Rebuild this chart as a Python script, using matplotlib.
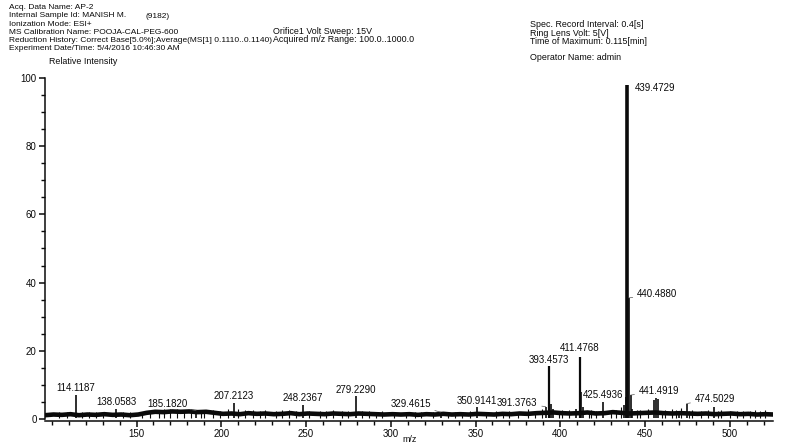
import numpy as np
import matplotlib
matplotlib.use("Agg")
import matplotlib.pyplot as plt
from matplotlib.ticker import MultipleLocator

plt.rcParams['font.family'] = ['Liberation Sans', 'DejaVu Sans']

# labelled peaks (m/z, relative intensity)
peak_mz = [114.1187, 138.0583, 185.1820, 207.2123, 248.2367, 279.2290, 329.4615,
           350.9141, 391.3763, 393.4573, 411.4768, 425.4936, 439.4729, 440.4880,
           441.4919, 474.5029]
peak_int = [7.0, 2.8, 2.4, 4.6, 4.0, 6.8, 2.0, 3.6, 3.6, 15.6, 18.2, 5.0, 98.0,
            35.5, 7.0, 4.5]
peak_lab = ['114.1187', '138.0583', '185.1820', '207.2123', '248.2367', '279.2290',
            '329.4615', '350.9141', '391.3763', '393.4573', '411.4768', '425.4936',
            '439.4729', '440.4880', '441.4919', '474.5029']

# unlabelled peaks
minor_mz = [394.5, 396.0, 409.0, 412.5, 413.5, 437.5, 438.5, 442.5, 455.5, 456.5,
            457.5, 470.0, 490.5]
minor_int = [4.5, 3.0, 2.8, 8.0, 3.5, 4.0, 6.5, 3.0, 5.5, 6.0, 5.8, 2.4, 3.6]

# small noise spikes on the baseline
noise_mz = [104, 109, 118, 122, 126, 130, 142, 146, 153, 158, 163, 166, 170, 174,
            178, 182, 188, 190, 195, 199, 204, 210, 214, 219, 223, 226, 232, 236,
            240, 244, 252, 258, 262, 266, 271, 275, 283, 287, 291, 295, 302, 309,
            314, 318, 325, 334, 338, 342, 347, 356, 362, 366, 370, 375, 381, 385,
            389, 399, 401, 405, 417, 418, 421, 430, 433, 436, 445, 447, 452, 460,
            462, 466, 468, 471, 476, 478, 483, 487, 493, 495, 500, 504, 508, 512,
            515, 518, 521]
noise_int = [1.9, 2.0, 2.1, 2.0, 1.9, 2.1, 1.9, 2.0, 1.9, 2.4, 2.7, 2.9, 2.9, 2.8,
             2.7, 2.8, 2.7, 2.6, 2.6, 2.4, 2.8, 2.9, 2.5, 2.6, 2.4, 2.5, 2.4, 2.6,
             2.5, 2.3, 2.4, 2.3, 2.4, 2.5, 2.2, 2.4, 2.2, 2.3, 2.1, 2.2, 2.0, 2.1,
             2.0, 2.1, 1.9, 2.0, 2.1, 2.0, 2.2, 2.0, 2.2, 2.1, 2.3, 2.1, 2.8, 2.4,
             3.0, 2.4, 2.6, 2.7, 2.4, 2.5, 2.3, 2.5, 2.6, 3.5, 2.6, 2.6, 2.8, 2.4,
             2.7, 3.0, 2.5, 3.1, 2.4, 2.6, 2.4, 2.6, 2.3, 2.5, 2.3, 2.2, 2.2, 2.3,
             2.5, 2.2, 2.7]

# baseline level, sampled every 5 m/z from 96 to 526
base_mz = np.arange(96, 527, 5)
base_int = [1.1, 1.3, 1.2, 1.4, 1.1, 1.3, 1.2, 1.4, 1.2, 1.3, 1.1, 1.3,
            1.8, 2.1, 2.0, 2.2, 2.1, 2.2, 2.0, 2.1, 1.8,
            1.5, 1.6, 1.4, 1.7, 1.5, 1.6, 1.4, 1.5, 1.7, 1.4, 1.6, 1.5, 1.4, 1.6,
            1.5, 1.4, 1.6, 1.5, 1.4, 1.3, 1.4,
            1.3, 1.4, 1.2, 1.4, 1.3, 1.5, 1.3, 1.4, 1.3, 1.5, 1.4, 1.3, 1.5, 1.4,
            1.6, 1.5, 1.7,
            1.8, 1.9, 1.7, 1.6, 1.7, 1.9, 1.6, 1.7, 2.0, 1.8, 1.6, 1.7, 1.8, 1.9,
            1.7, 1.6, 1.7, 1.6, 1.5, 1.6, 1.4, 1.5, 1.6, 1.4, 1.5, 1.3, 1.4, 1.3]

header_left = ["Acq. Data Name: AP-2",
               "Internal Sample Id: MANISH M.",
               "Ionization Mode: ESI+",
               "MS Calibration Name: POOJA-CAL-PEG-600",
               "Reduction History: Correct Base[5.0%];Average(MS[1] 0.1110..0.1140)",
               "Experiment Date/Time: 5/4/2016 10:46:30 AM"]
header_mid = ["Orifice1 Volt Sweep: 15V", "Acquired m/z Range: 100.0..1000.0"]
header_right = ["Spec. Record Interval: 0.4[s]", "Ring Lens Volt: 5[V]",
                "Time of Maximum: 0.115[min]"]

W, H = 787, 443
fig = plt.figure(figsize=(W / 100, H / 100), dpi=100)
ax = fig.add_axes([45 / W, 22 / H, 728 / W, 343 / H])

ink = '#0a0a0a'
ax.vlines(noise_mz, 0.4, noise_int, color=ink, lw=0.8)
ax.plot(base_mz, base_int, color=ink, lw=3.3, solid_joinstyle='miter')
ax.vlines(minor_mz, 0.4, minor_int, color=ink, lw=1.2)
ax.vlines(peak_mz, 0.4, peak_int, color=ink, lw=1.2)
ax.vlines([393.4573, 411.4768], 0.4, [15.6, 18.2], color=ink, lw=1.6)
ax.vlines([439.4729], 0.4, [98.0], color=ink, lw=2.6)

# label placement: (dx, dy) in pixels from peak top, alignment, leader line
lab_style = {
    '114.1187': (0, 2, 'center', False), '138.0583': (0, 2, 'center', False),
    '185.1820': (-9, 4, 'right', True), '207.2123': (0, 2, 'center', False),
    '248.2367': (0, 2, 'center', False), '279.2290': (0, 1, 'center', False),
    '329.4615': (-10, 5, 'right', True), '350.9141': (0, 1, 'center', False),
    '391.3763': (-8, 1, 'right', True), '393.4573': (0, 1, 'center', False),
    '411.4768': (0, 4, 'center', False), '425.4936': (0, 2, 'center', False),
    '439.4729': (8, -6, 'left', False), '440.4880': (8, 1, 'left', True),
    '441.4919': (8, 1, 'left', True), '474.5029': (8, 2, 'left', True),
}
for mz, it, lab in zip(peak_mz, peak_int, peak_lab):
    dx, dy, ha, lead = lab_style[lab]
    va = 'bottom' if ha == 'center' else 'center'
    if ha != 'center':
        dy = dy + 3
    ax.annotate(lab, (mz, it), xytext=(dx, dy), textcoords='offset pixels',
                ha=ha, va=va, fontsize=7.0, color=ink,
                arrowprops=dict(arrowstyle='-', color='#555555', lw=0.5,
                                shrinkA=1, shrinkB=0) if lead else None)

ax.set_xlim(96, 525.5)
ax.set_ylim(-0.6, 100)
for s in ['top', 'right']:
    ax.spines[s].set_visible(False)
ax.spines['left'].set_bounds(0, 100)
for s in ['left', 'bottom']:
    ax.spines[s].set_linewidth(1.1)
    ax.spines[s].set_color(ink)
ax.xaxis.set_minor_locator(MultipleLocator(10))
ax.set_xticks([150, 200, 250, 300, 350, 400, 450, 500])
ax.yaxis.set_major_locator(MultipleLocator(20))
ax.yaxis.set_minor_locator(MultipleLocator(5))
ax.tick_params(which='major', length=4, width=1.1, colors=ink, labelsize=7.0, pad=2)
ax.tick_params(which='minor', length=3, width=1.0, colors=ink)

# header block (left part slightly smaller so it stays clear of the middle block)
fs_l = 6.05
ys = [7.5, 15.8, 24.1, 32.4, 40.7, 49.0]
for t, y in zip(header_left, ys):
    fig.text(9 / W, 1 - y / H, t, fontsize=fs_l, va='center', ha='left', color=ink)
fig.text(146 / W, 1 - 16.8 / H, "(9182)", fontsize=fs_l, va='center', ha='left',
         color=ink)
fs = 6.4
for t, y in zip(header_mid, [31.5, 40.0]):
    fig.text(273 / W, 1 - y / H, t, fontsize=fs, va='center', ha='left', color=ink)
for t, y in zip(header_right, [24.5, 33.1, 41.7]):
    fig.text(530 / W, 1 - y / H, t, fontsize=fs, va='center', ha='left', color=ink)
fig.text(530 / W, 1 - 57 / H, "Operator Name: admin", fontsize=fs, va='center',
         ha='left', color=ink)
fig.text(49 / W, 1 - 61 / H, "Relative Intensity", fontsize=fs, va='center',
         ha='left', color=ink)
fig.text(402 / W, 1 - 439 / H, "m/z", fontsize=fs, va='center', ha='left', color=ink)

fig.savefig('out.png', dpi=100)
